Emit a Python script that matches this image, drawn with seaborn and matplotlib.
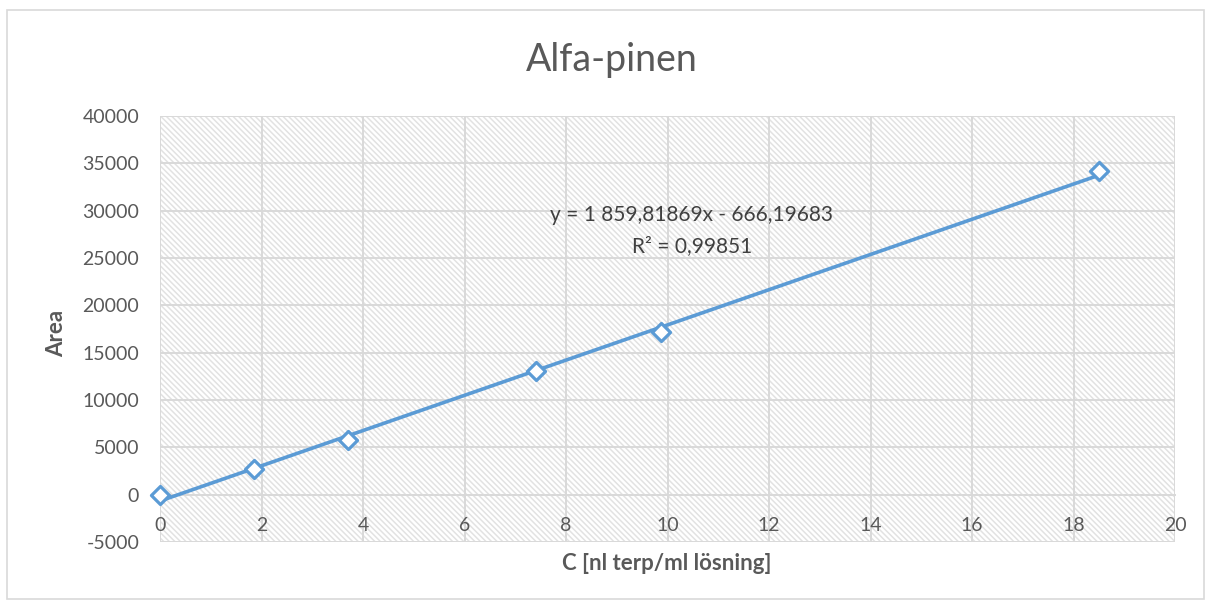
import matplotlib
matplotlib.use("Agg")
import matplotlib.pyplot as plt
import matplotlib.patches as mpatches
import numpy as np
import pandas as pd
import seaborn as sns

# Calibration data: concentration vs. peak area
conc = [0.0, 1.85, 3.70, 7.40, 9.87, 18.50]
area = [0, 2750, 5750, 13050, 17150, 34150]

# Linear trendline coefficients and fit quality
slope = 1859.81869
intercept = -666.19683
r_squared = 0.99851

x_ticks = list(range(0, 21, 2))
y_ticks = list(range(-5000, 40001, 5000))

sns.set_style("white")
plt.rcParams["font.family"] = ["Lato", "DejaVu Sans"]
plt.rcParams["hatch.linewidth"] = 1.1

BLUE = "#5b9bd5"
GRID = "#d9d9d9"
TEXT = "#595959"

fig = plt.figure(figsize=(12.12, 6.04), dpi=100)
ax = fig.add_axes([160 / 1212, 1 - 542 / 604, 1015 / 1212, 426 / 604])

# Hatched plot area background
ax.add_patch(mpatches.Rectangle((0, 0), 1, 1, transform=ax.transAxes,
                                facecolor="white", edgecolor="#e2e2e2",
                                hatch="\\" * 6, linewidth=0, zorder=0))

df = pd.DataFrame({"C": conc, "Area": area})
fit_x = np.array([min(conc), max(conc)])
fit_df = pd.DataFrame({"C": fit_x, "Area": slope * fit_x + intercept})

sns.lineplot(data=fit_df, x="C", y="Area", ax=ax, color=BLUE, linewidth=2.6,
             zorder=3)
sns.scatterplot(data=df, x="C", y="Area", ax=ax, marker="D", s=85,
                facecolor="white", edgecolor=BLUE, linewidth=2.3, zorder=4,
                clip_on=False)

ax.set_xlim(0, 20)
ax.set_ylim(-5000, 40000)
ax.set_xticks(x_ticks)
ax.set_yticks(y_ticks)
ax.set_xticklabels([str(t) for t in x_ticks])
ax.set_yticklabels([str(t) for t in y_ticks])
ax.grid(True, color=GRID, linewidth=1.4, zorder=1)
ax.set_axisbelow(True)

for side in ["top", "right", "left"]:
    ax.spines[side].set_visible(False)
ax.spines["bottom"].set_position(("data", 0))
ax.spines["bottom"].set_color(GRID)
ax.spines["bottom"].set_linewidth(1.4)

ax.tick_params(axis="x", length=0, pad=16, labelsize=14, colors=TEXT)
ax.tick_params(axis="y", length=0, pad=15, labelsize=14, colors=TEXT)

ax.set_xlabel("")
ax.set_ylabel("")
fig.text(667 / 1212, 1 - 563 / 604, "C [nl terp/ml lösning]", ha="center",
         va="center", fontsize=16, fontweight="bold", color=TEXT)
fig.text(57 / 1212, 1 - 333 / 604, "Area", ha="center", va="center",
         rotation=90, fontsize=16, fontweight="bold", color=TEXT)

fig.text(612 / 1212, 1 - 60 / 604, "Alfa-pinen", ha="center", va="center",
         fontsize=27, color=TEXT)

fig.text(692 / 1212, 1 - 215 / 604,
         "y = 1 859,81869x - 666,19683", ha="center", va="center",
         fontsize=15, color="#404040")
fig.text(692 / 1212, 1 - 246 / 604,
         "R² = " + f"{r_squared:.5f}".replace(".", ","), ha="center",
         va="center", fontsize=15, color="#404040")

# Chart frame
fig.patches.append(mpatches.Rectangle((7 / 1212, 1 - 599 / 604),
                                      1197 / 1212, 589 / 604,
                                      transform=fig.transFigure,
                                      fill=False, edgecolor=GRID,
                                      linewidth=1.2))

fig.savefig("out.png", dpi=100)
